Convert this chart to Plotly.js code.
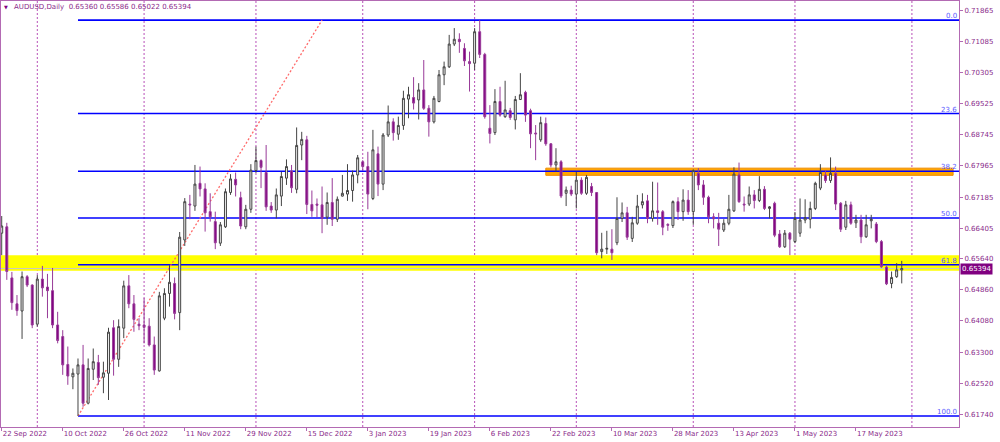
<!DOCTYPE html>
<html><head><meta charset="utf-8">
<script src="https://cdn.plot.ly/plotly-3.0.1.min.js"></script>
<style>html,body{margin:0;padding:0;background:#fff;}#chart{width:1000px;height:442px;}</style>
</head><body><div id="chart"></div>
<script>
const symbolTitle = "AUDUSD,Daily";
const firstDate = "2022-09-22";
const skippedDates = ["2022-12-26"];

const openP = [
.6628,.6644,.6516,.6451,.6433,.6519,.6498,.6400,.6513,.6493,
.6484,.6398,.6369,.6299,.6268,.6275,.6298,.6202,.6287,.6304,
.6267,.6277,.6391,.6312,.6390,.6496,.6451,.6400,.6398,.6395,
.6348,.6283,.6415,.6477,.6502,.6429,.6611,.6701,.6696,.6753,
.6739,.6682,.6657,.6603,.6644,.6730,.6763,.6717,.6644,.6688,
.6785,.6810,.6780,.6696,.6686,.6721,.6766,.6784,.6738,.6849,
.6862,.6700,.6701,.6699,.6668,.6705,.6663,.6721,.6726,.6735,
.6774,.6807,.6795,.6715,.6827,.6751,.6874,.6907,.6876,.6898,
.6964,.6968,.6962,.6987,.6941,.6907,.6958,.7025,.7045,.7102,
.7114,.7091,.7058,.7054,.7133,.7076,.6891,.6880,.6958,.6920,
.6935,.6912,.6963,.6981,.6935,.6879,.6862,.6903,.6852,.6799,
.6807,.6728,.6736,.6726,.6761,.6728,.6745,.6730,.6582,.6588,
.6588,.6604,.6665,.6679,.6615,.6653,.6699,.6709,.6665,.6684,
.6682,.6650,.6647,.6707,.6682,.6711,.6682,.6778,.6749,.6718,
.6669,.6653,.6636,.6653,.6684,.6774,.6701,.6701,.6724,.6710,
.6738,.6690,.6703,.6626,.6594,.6628,.6607,.6628,.6661,.6663,
.6690,.6741,.6774,.6760,.6778,.6703,.6643,.6699,.6654,.6661,
.6619,.6659,.6651,.6607,.6543,.6502,.6519,.65360];

const highP = [
.6671,.6654,.6531,.6473,.6532,.6523,.6500,.6523,.6546,.6526,
.6541,.6431,.6385,.6344,.6289,.6314,.6348,.6314,.6339,.6323,
.6306,.6391,.6410,.6412,.6509,.6523,.6473,.6415,.6465,.6415,
.6369,.6481,.6490,.6548,.6517,.6631,.6716,.6724,.6799,.6795,
.6753,.6728,.6682,.6656,.6740,.6776,.6780,.6732,.6699,.6801,
.6845,.6813,.6849,.6706,.6740,.6782,.6813,.6799,.6893,.6882,
.6872,.6735,.6715,.6745,.6730,.6766,.6720,.6774,.6801,.6785,
.6824,.6811,.6832,.6887,.6845,.6879,.6948,.6916,.6920,.6985,
.6995,.7019,.7004,.7062,.6949,.6972,.7037,.7058,.7125,.7142,
.7129,.7104,.7083,.7142,.7162,.7080,.6949,.6989,.6995,.7010,
.6942,.6972,.7029,.6985,.6940,.6899,.6920,.6918,.6854,.6841,
.6811,.6745,.6747,.6782,.6768,.6774,.6754,.6731,.6629,.6634,
.6638,.6718,.6705,.6694,.6669,.6724,.6728,.6724,.6757,.6755,
.6686,.6653,.6710,.6718,.6738,.6736,.6788,.6791,.6761,.6722,
.6678,.6679,.6663,.6724,.6793,.6805,.6720,.6745,.6736,.6771,
.6746,.6696,.6707,.6636,.6636,.6631,.6681,.6715,.6713,.6707,
.6757,.6801,.6786,.6818,.6795,.6706,.6709,.6707,.6674,.6674,
.6674,.6674,.6656,.6611,.6546,.6532,.6553,.65586];

const lowP = [
.6573,.6511,.6436,.6421,.6363,.6493,.6390,.6394,.6469,.6415,
.6390,.6352,.6273,.6248,.6237,.6170,.6193,.6199,.6260,.6248,
.6227,.6210,.6271,.6293,.6365,.6440,.6381,.6385,.6352,.6344,
.6273,.6281,.6410,.6444,.6412,.6385,.6596,.6663,.6684,.6720,
.6632,.6657,.6588,.6596,.6641,.6724,.6720,.6638,.6638,.6679,
.6779,.6741,.6684,.6679,.6665,.6696,.6749,.6729,.6728,.6811,
.6676,.6669,.6668,.6628,.6649,.6646,.6656,.6720,.6709,.6707,
.6753,.6786,.6688,.6711,.6721,.6736,.6869,.6860,.6862,.6887,
.6916,.6938,.6913,.6937,.6870,.6903,.6956,.6999,.7042,.7097,
.7080,.7047,.6983,.7037,.7067,.6915,.6853,.6874,.6920,.6917,
.6912,.6888,.6962,.6907,.6841,.6811,.6857,.6847,.6793,.6782,
.6716,.6696,.6721,.6690,.6724,.6724,.6721,.6573,.6565,.6576,
.6561,.6598,.6656,.6611,.6606,.6649,.6690,.6653,.6657,.6649,
.6623,.6634,.6641,.6661,.6659,.6674,.6649,.6736,.6699,.6653,
.6640,.6596,.6631,.6648,.6681,.6704,.6682,.6696,.6690,.6706,
.6686,.6665,.6618,.6591,.6591,.6573,.6603,.6619,.6653,.6640,
.6686,.6736,.6754,.6754,.6686,.6631,.6636,.6649,.6641,.6603,
.6616,.6640,.6603,.6541,.6498,.6490,.6516,.65022];

const closeP = [
.6646,.6532,.6454,.6434,.6519,.6498,.6398,.6513,.6491,.6484,
.6398,.6359,.6298,.6270,.6277,.6298,.6202,.6289,.6306,.6266,
.6278,.6380,.6312,.6394,.6496,.6451,.6412,.6396,.6392,.6348,
.6285,.6471,.6477,.6505,.6427,.6618,.6707,.6699,.6751,.6739,
.6679,.6669,.6604,.6649,.6732,.6764,.6749,.6646,.6688,.6786,
.6810,.6793,.6694,.6686,.6724,.6770,.6795,.6742,.6848,.6863,
.6700,.6684,.6698,.6665,.6705,.6663,.6713,.6728,.6735,.6774,
.6817,.6795,.6726,.6837,.6751,.6874,.6907,.6880,.6898,.6966,
.6975,.6954,.6987,.6941,.6907,.6966,.7025,.7045,.7102,.7114,
.7108,.7060,.7053,.7133,.7076,.6920,.6878,.6958,.6924,.6937,
.6918,.6963,.6975,.6924,.6877,.6877,.6905,.6852,.6799,.6807,
.6721,.6736,.6726,.6761,.6728,.6768,.6730,.6579,.6588,.6590,
.6579,.6665,.6679,.6618,.6654,.6696,.6707,.6665,.6684,.6680,
.6643,.6648,.6707,.6682,.6711,.6682,.6785,.6749,.6718,.6669,
.6664,.6638,.6653,.6688,.6776,.6707,.6699,.6724,.6710,.6738,
.6690,.6694,.6623,.6594,.6628,.6613,.6665,.6661,.6667,.6690,
.6753,.6780,.6760,.6778,.6701,.6638,.6699,.6653,.6661,.6619,
.6649,.6663,.6607,.6544,.6501,.6517,.6536,.65394];

const tickDates = ["2022-09-22","2022-10-10","2022-10-26","2022-11-11","2022-11-29","2022-12-15",
  "2023-01-03","2023-01-19","2023-02-06","2023-02-22","2023-03-10","2023-03-28","2023-04-13","2023-05-01","2023-05-17"];
const tickLabels = ["22 Sep 2022","10 Oct 2022","26 Oct 2022","11 Nov 2022","29 Nov 2022","15 Dec 2022",
  "3 Jan 2023","19 Jan 2023","6 Feb 2023","22 Feb 2023","10 Mar 2023","28 Mar 2023","13 Apr 2023","1 May 2023","17 May 2023"];
const priceTicks = [0.71865,0.71085,0.70305,0.69525,0.68745,0.67965,0.67185,0.66405,0.65640,0.64860,0.64080,0.63300,0.62520,0.61740];

const monthStarts = ["2022-10-03","2022-11-01","2022-12-01","2023-01-02","2023-02-01","2023-03-01","2023-04-03","2023-05-01","2023-06-01"];
const fibLevels = [0.0, 23.6, 38.2, 50.0, 61.8, 100.0];
const fibHigh = 0.7162;
const fibLow = 0.6170;
const fibStartDate = "2022-10-13";
const fibEndDate = "2022-12-20";
const yellowZone = [0.6534, 0.6573];
const orangeZone = [0.6773, 0.6791];
const orangeStartDate = "2023-02-21";

// trading-day calendar (weekdays, minus skipped dates)
const calendar = [];
(function(){
  const d = new Date(firstDate + "T00:00:00Z");
  while (calendar.length < openP.length + 6) {
    const wd = d.getUTCDay();
    const s = d.toISOString().slice(0,10);
    if (wd !== 0 && wd !== 6 && skippedDates.indexOf(s) < 0) calendar.push(s);
    d.setUTCDate(d.getUTCDate() + 1);
  }
})();
const dates = calendar.slice(0, openP.length);
const idx = s => calendar.indexOf(s);

const PURPLE = '#800080';
const TXT = '#8a2a8a';
const FRAME = '#b36ab3';
const FONT = 'DejaVu Sans';
const XR = [-0.14, 188.26];
const YR = [0.61423, 0.72099];

const trace = {
  type: 'candlestick', x: dates, open: openP, high: highP, low: lowP, close: closeP,
  increasing: {line: {color: '#444444', width: 1}, fillcolor: '#f0f0f0'},
  decreasing: {line: {color: '#983a98', width: 1}, fillcolor: PURPLE},
  whiskerwidth: 0, hoverinfo: 'skip', showlegend: false
};

const shapes = [];
shapes.push({type:'rect', layer:'below', xref:'x', yref:'y', x0: XR[0]-1, x1: XR[1]+1, y0: yellowZone[0], y1: yellowZone[1],
  fillcolor:'#ffff00', line:{width:0}});
shapes.push({type:'rect', layer:'below', xref:'x', yref:'y', x0: idx(orangeStartDate), x1: 187.1, y0: orangeZone[0], y1: orangeZone[1],
  fillcolor:'#ffa500', line:{width:1, color:'#f08c00'}});
monthStarts.forEach(m => shapes.push({type:'line', layer:'below', xref:'x', yref:'paper', x0: idx(m), x1: idx(m), y0:0, y1:1,
  line:{color:'#b850b8', width:1, dash:'2px,2px'}}));
shapes.push({type:'line', layer:'below', xref:'x', yref:'y', x0: XR[0]-1, x1: XR[1]+1, y0: closeP[closeP.length-1], y1: closeP[closeP.length-1],
  line:{color:'#c8c8c8', width:1}});
const fibPrice = r => fibHigh - r/100*(fibHigh - fibLow);
fibLevels.forEach(r => shapes.push({type:'line', layer:'below', xref:'x', yref:'y', x0: idx(fibStartDate), x1: XR[1]+1,
  y0: fibPrice(r), y1: fibPrice(r), line:{color:'#0000ff', width:1.6}}));
shapes.push({type:'line', layer:'below', xref:'x', yref:'y', x0: idx(fibStartDate), x1: idx(fibEndDate), y0: fibLow, y1: fibHigh,
  line:{color:'#ff6a6a', width:1.3, dash:'2px,2px'}});

const annotations = [];
fibLevels.forEach(r => annotations.push({xref:'x', yref:'y', x: XR[1], y: fibPrice(r), xanchor:'right', yanchor:'bottom',
  text: r.toFixed(1), showarrow:false, font:{family:FONT, size:7, color:'#5a5aff'}, xshift:-1, yshift:-1, borderpad:0}));
const last = openP.length - 1;
annotations.push({xref:'paper', yref:'paper', x: 0.002, y: 0.987, xanchor:'left', yanchor:'middle', text:'▼',
  showarrow:false, font:{family:FONT, size:5, color:PURPLE}, borderpad:0});
annotations.push({xref:'paper', yref:'paper', x: 0.0125, y: 0.987, xanchor:'left', yanchor:'middle',
  text: symbolTitle + '\u00a0\u00a0' + [openP[last], highP[last], lowP[last], closeP[last]].map(v => v.toFixed(5)).join(' '),
  showarrow:false, font:{family:FONT, size:7, color:TXT}, borderpad:0});
annotations.push({xref:'paper', yref:'y', x: 1, y: closeP[last], xanchor:'left', yanchor:'middle', xshift: 1,
  text: closeP[last].toFixed(5), showarrow:false, bgcolor: PURPLE, font:{family:FONT, size:7, color:'#ffffff'}, borderpad:1});

const layout = {
  width: 1000, height: 442,
  margin: {l:1, r:41, t:1, b:15, pad:0},
  paper_bgcolor:'#ffffff', plot_bgcolor:'#ffffff',
  font: {family: FONT, size: 7, color: TXT},
  showlegend: false, boxgap: 0.45, dragmode: false,
  xaxis: {type:'category', range: XR, tickvals: tickDates, ticktext: tickLabels, tickangle: 0,
    ticks:'outside', ticklen:3, tickcolor: FRAME, ticklabelposition:'outside right',
    showline:true, linecolor: FRAME, linewidth:1, mirror:true, showgrid:false, zeroline:false,
    rangeslider:{visible:false}, tickfont:{family:FONT, size:7, color:TXT}, fixedrange:true},
  yaxis: {side:'right', range: YR, tickvals: priceTicks, ticktext: priceTicks.map(v => v.toFixed(5)),
    ticks:'outside', ticklen:3, tickcolor: FRAME, showline:true, linecolor: FRAME, linewidth:1, mirror:true,
    showgrid:false, zeroline:false, tickfont:{family:FONT, size:7, color:TXT}, fixedrange:true},
  shapes: shapes, annotations: annotations
};
Plotly.newPlot('chart', [trace], layout, {staticPlot:true, displayModeBar:false});
</script></body></html>
